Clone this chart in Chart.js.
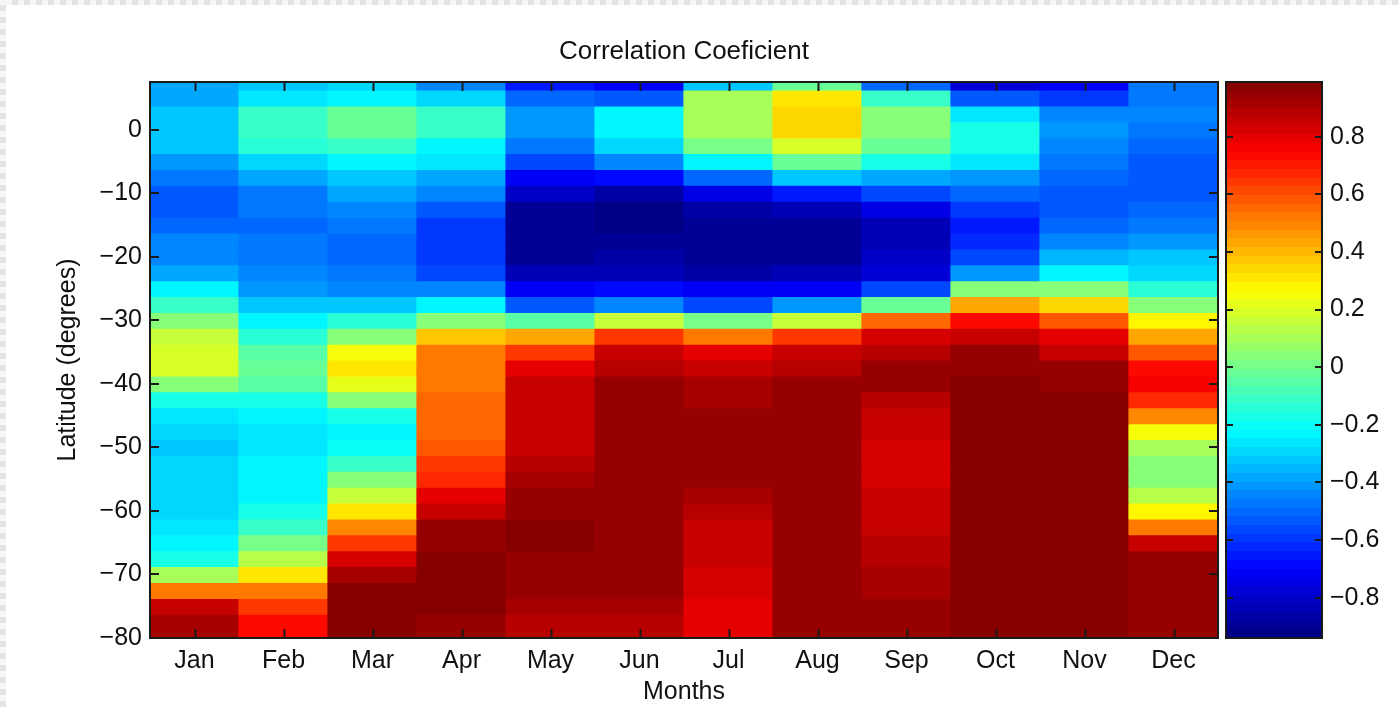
<!DOCTYPE html>
<html>
<head>
<meta charset="utf-8">
<title>Correlation Coeficient</title>
<script src="https://cdn.jsdelivr.net/npm/chart.js@4.4.1/dist/chart.umd.min.js"></script>
<style>
  html, body { margin: 0; padding: 0; background: #fff; }
  #wrap { position: relative; width: 1399px; height: 707px; overflow: hidden; }
  #wrap canvas { position: absolute; top: 0; }
  #heat { left: 0; }
  #bar { left: 1222px; }
  .edge-top { position: absolute; left: 0; top: 0; width: 1399px; height: 5px;
    background: repeating-linear-gradient(90deg, #e4e4e4 0 6px, #f6f6f6 6px 12px); }
  .edge-left { position: absolute; left: 0; top: 0; width: 6px; height: 707px;
    background: repeating-linear-gradient(0deg, #e4e4e4 0 6px, #f6f6f6 6px 12px); }
</style>
</head>
<body>
<div id="wrap">
  <canvas id="heat" width="1222" height="707"></canvas>
  <canvas id="bar" width="177" height="707"></canvas>
  <div class="edge-top"></div>
  <div class="edge-left"></div>
</div>
<script>
const months = ['Jan', 'Feb', 'Mar', 'Apr', 'May', 'Jun', 'Jul', 'Aug', 'Sep', 'Oct', 'Nov', 'Dec'];

// cell centres, north to south (degrees)
const latitudes = [7.5, 5, 2.5, 0, -2.5, -5, -7.5, -10, -12.5, -15, -17.5, -20,
  -22.5, -25, -27.5, -30, -32.5, -35, -37.5, -40, -42.5, -45, -47.5, -50,
  -52.5, -55, -57.5, -60, -62.5, -65, -67.5, -70, -72.5, -75, -77.5, -80];
const cellHalf = 1.25;

// correlation per latitude, one array per month (same order as latitudes)
const corrJan = [-0.38, -0.37, -0.32, -0.32, -0.33, -0.41, -0.46, -0.52, -0.52, -0.49, -0.43, -0.43,
  -0.37, -0.22, -0.10, 0.03, 0.15, 0.20, 0.20, 0.03, -0.16, -0.27, -0.30, -0.33,
  -0.29, -0.29, -0.29, -0.29, -0.26, -0.22, -0.16, 0.10, 0.53, 0.845, 0.91, 0.91];
const corrFeb = [-0.32, -0.27, -0.10, -0.10, -0.13, -0.29, -0.39, -0.46, -0.46, -0.49, -0.48, -0.46,
  -0.43, -0.40, -0.32, -0.24, -0.13, -0.06, -0.03, -0.06, -0.16, -0.22, -0.25, -0.27,
  -0.24, -0.22, -0.22, -0.16, -0.10, 0.00, 0.12, 0.30, 0.51, 0.65, 0.72, 0.72];
const corrMar = [-0.30, -0.22, -0.03, -0.03, -0.10, -0.22, -0.32, -0.39, -0.45, -0.48, -0.49, -0.49,
  -0.48, -0.43, -0.33, -0.13, 0.05, 0.25, 0.30, 0.22, 0.03, -0.16, -0.22, -0.19,
  -0.10, 0.03, 0.15, 0.30, 0.48, 0.65, 0.81, 0.91, 0.96, 0.96, 0.99, 0.99];
const corrApr = [-0.43, -0.30, -0.10, -0.10, -0.22, -0.27, -0.37, -0.43, -0.52, -0.58, -0.58, -0.58,
  -0.55, -0.43, -0.24, 0.05, 0.36, 0.51, 0.52, 0.53, 0.55, 0.55, 0.56, 0.59,
  0.63, 0.68, 0.78, 0.86, 0.93, 0.95, 0.98, 0.96, 0.96, 0.96, 0.945, 0.945];
const corrMay = [-0.64, -0.49, -0.40, -0.40, -0.46, -0.55, -0.70, -0.80, -0.88, -0.90, -0.90, -0.88,
  -0.83, -0.72, -0.52, -0.06, 0.43, 0.65, 0.78, 0.845, 0.845, 0.845, 0.845, 0.845,
  0.89, 0.91, 0.93, 0.94, 0.98, 0.98, 0.955, 0.955, 0.93, 0.91, 0.89, 0.89];
const corrJun = [-0.72, -0.52, -0.24, -0.23, -0.29, -0.43, -0.67, -0.87, -0.92, -0.92, -0.90, -0.87,
  -0.84, -0.67, -0.43, 0.15, 0.65, 0.845, 0.89, 0.93, 0.93, 0.93, 0.93, 0.93,
  0.93, 0.93, 0.94, 0.955, 0.955, 0.955, 0.955, 0.945, 0.93, 0.91, 0.89, 0.89];
const corrJul = [-0.33, 0.10, 0.10, 0.10, 0.00, -0.24, -0.49, -0.74, -0.86, -0.88, -0.88, -0.88,
  -0.86, -0.70, -0.55, 0.00, 0.52, 0.78, 0.86, 0.91, 0.91, 0.955, 0.955, 0.955,
  0.93, 0.93, 0.91, 0.89, 0.86, 0.845, 0.845, 0.81, 0.81, 0.80, 0.78, 0.78];
const corrAug = [-0.03, 0.30, 0.35, 0.33, 0.18, -0.03, -0.33, -0.64, -0.83, -0.88, -0.88, -0.88,
  -0.83, -0.72, -0.41, 0.15, 0.63, 0.845, 0.89, 0.955, 0.955, 0.955, 0.955, 0.93,
  0.93, 0.93, 0.93, 0.93, 0.955, 0.955, 0.955, 0.955, 0.955, 0.955, 0.955, 0.955];
const corrSep = [-0.49, -0.10, 0.05, 0.05, -0.03, -0.16, -0.37, -0.55, -0.74, -0.83, -0.83, -0.80,
  -0.78, -0.55, -0.03, 0.56, 0.81, 0.89, 0.93, 0.93, 0.89, 0.86, 0.84, 0.81,
  0.81, 0.81, 0.845, 0.845, 0.86, 0.875, 0.89, 0.91, 0.91, 0.93, 0.93, 0.93];
const corrOct = [-0.78, -0.52, -0.27, -0.16, -0.16, -0.27, -0.40, -0.49, -0.58, -0.64, -0.61, -0.55,
  -0.40, 0.05, 0.44, 0.72, 0.86, 0.93, 0.955, 0.98, 0.98, 0.98, 0.98, 0.98,
  0.98, 0.98, 0.98, 0.98, 0.98, 0.98, 0.98, 0.98, 0.98, 0.98, 0.98, 0.98];
const corrNov = [-0.70, -0.58, -0.43, -0.41, -0.45, -0.48, -0.49, -0.52, -0.53, -0.49, -0.45, -0.36,
  -0.22, 0.05, 0.35, 0.59, 0.78, 0.86, 0.93, 0.94, 0.98, 0.98, 0.98, 0.98,
  0.98, 0.98, 0.98, 0.98, 0.98, 0.98, 0.98, 0.98, 0.98, 0.98, 0.98, 0.98];
const corrDec = [-0.46, -0.46, -0.45, -0.46, -0.49, -0.52, -0.52, -0.52, -0.49, -0.46, -0.40, -0.32,
  -0.29, -0.13, 0.05, 0.27, 0.44, 0.59, 0.72, 0.75, 0.68, 0.49, 0.25, 0.10,
  0.03, 0.03, 0.12, 0.27, 0.53, 0.845, 0.955, 0.955, 0.955, 0.955, 0.955, 0.955];

const monthColumns = [corrJan, corrFeb, corrMar, corrApr, corrMay, corrJun,
  corrJul, corrAug, corrSep, corrOct, corrNov, corrDec];

// colour limits of the colorbar
const colorLimits = [-0.94, 0.99];

const FONT = "'Liberation Sans', Arial, Helvetica, sans-serif";
const INK = '#111';

// MATLAB-style jet, 64 levels
const JET_LEVELS = 64;
function jetAt(t) {
  const c = x => Math.round(255 * Math.max(0, Math.min(1, x)));
  return `rgb(${c(1.5 - Math.abs(4 * t - 3))},${c(1.5 - Math.abs(4 * t - 2))},${c(1.5 - Math.abs(4 * t - 1))})`;
}
function jet(v) {
  let t = (v - colorLimits[0]) / (colorLimits[1] - colorLimits[0]);
  let i = Math.floor(t * JET_LEVELS);
  i = Math.max(0, Math.min(JET_LEVELS - 1, i));
  return jetAt((i + 0.5) / JET_LEVELS);
}

const minus = s => String(s).replace('-', '\u2212');

// box around the plot area with inward ticks on every side
const framePlugin = {
  id: 'frame',
  afterDraw(chart, args, opts) {
    const {ctx, chartArea: a, scales} = chart;
    ctx.save();
    ctx.strokeStyle = '#1a1a1a';
    ctx.lineWidth = 2;
    ctx.beginPath();
    const len = opts.tickLength || 8;
    if (opts.xTicks && scales.x) {
      scales.x.ticks.forEach((t, i) => {
        const px = Math.round(scales.x.getPixelForTick(i)) + 0.5;
        ctx.moveTo(px, a.bottom); ctx.lineTo(px, a.bottom - len);
        ctx.moveTo(px, a.top); ctx.lineTo(px, a.top + len);
      });
    }
    scales.y.ticks.forEach(t => {
      const py = Math.round(scales.y.getPixelForValue(t.value));
      ctx.moveTo(a.left, py); ctx.lineTo(a.left + len, py);
      ctx.moveTo(a.right, py); ctx.lineTo(a.right - len, py);
    });
    ctx.stroke();
    ctx.strokeRect(a.left, a.top, a.right - a.left, a.bottom - a.top);
    ctx.restore();
  }
};

const heatDatasets = latitudes.map((lat, r) => ({
  label: String(lat),
  data: months.map(() => [lat - cellHalf, lat + cellHalf]),
  backgroundColor: monthColumns.map(col => jet(col[r])),
  borderWidth: 0,
  grouped: false,
  barPercentage: 1,
  categoryPercentage: 1,
  inflateAmount: 0.6,
  clip: 0
}));

new Chart(document.getElementById('heat'), {
  type: 'bar',
  data: { labels: months, datasets: heatDatasets },
  options: {
    responsive: false,
    animation: false,
    layout: { padding: { left: 0, top: 0, right: 4, bottom: 0 } },
    plugins: {
      legend: { display: false },
      tooltip: { enabled: false },
      title: {
        display: true,
        text: 'Correlation Coeficient',
        fullSize: false,
        color: INK,
        font: { family: FONT, size: 26, weight: 'normal' },
        padding: { top: 36.4, bottom: 14.4 }
      },
      frame: { xTicks: true, tickLength: 9 }
    },
    scales: {
      x: {
        type: 'category',
        grid: { display: false, drawTicks: false },
        border: { display: false },
        ticks: { color: INK, padding: 8, font: { family: FONT, size: 25 } },
        title: {
          display: true, text: 'Months', color: INK,
          font: { family: FONT, size: 25 },
          padding: { top: 0, bottom: 0 }
        },
        afterFit: s => { s.height = 69; }
      },
      y: {
        type: 'linear',
        min: -80,
        max: 7.5,
        grid: { display: false, drawTicks: false },
        border: { display: false },
        ticks: {
          stepSize: 10,
          includeBounds: false,
          color: INK,
          padding: 8,
          font: { family: FONT, size: 25 },
          callback: v => minus(v)
        },
        title: {
          display: true, text: 'Latitude (degrees)', color: INK,
          font: { family: FONT, size: 25 },
          padding: { top: 53, bottom: 0 }
        },
        afterFit: s => { s.width = 150; }
      }
    }
  },
  plugins: [framePlugin]
});

// jet ramp between two pixel rows, banded like a 64-entry colormap
function jetGradient(ctx, yLow, yHigh) {
  const g = ctx.createLinearGradient(0, yLow, 0, yHigh);
  for (let i = 0; i < JET_LEVELS; i++) {
    const col = jetAt((i + 0.5) / JET_LEVELS);
    g.addColorStop(i / JET_LEVELS, col);
    g.addColorStop((i + 1) / JET_LEVELS, col);
  }
  return g;
}

// colorbar: one floating bar across the colour limits, filled with the jet ramp
new Chart(document.getElementById('bar'), {
  type: 'bar',
  data: {
    labels: [''],
    datasets: [{
      data: [colorLimits],
      borderWidth: 0,
      barPercentage: 1,
      categoryPercentage: 1,
      backgroundColor: ctx => {
        const {chart} = ctx;
        const y = chart.scales.y;
        if (!chart.chartArea || !y) return 'rgba(0,0,0,0)';
        const y0 = y.getPixelForValue(colorLimits[0]);
        const y1 = y.getPixelForValue(colorLimits[1]);
        if (!isFinite(y0) || !isFinite(y1) || y0 === y1) return 'rgba(0,0,0,0)';
        return jetGradient(chart.ctx, y0, y1);
      }
    }]
  },
  options: {
    responsive: false,
    animation: false,
    layout: { padding: { left: 4, top: 82, right: 0, bottom: 69 } },
    plugins: {
      legend: { display: false },
      tooltip: { enabled: false },
      frame: { xTicks: false, tickLength: 7 }
    },
    scales: {
      x: { display: false },
      y: {
        type: 'linear',
        position: 'right',
        min: colorLimits[0],
        max: colorLimits[1],
        grid: { display: false, drawTicks: false },
        border: { display: false },
        ticks: {
          stepSize: 0.2,
          includeBounds: false,
          color: INK,
          padding: 8,
          font: { family: FONT, size: 25 },
          callback: v => minus(Math.abs(v) < 1e-9 ? 0 : Math.round(v * 10) / 10)
        },
        afterFit: s => { s.width = 77; }
      }
    }
  },
  plugins: [framePlugin]
});
</script>
</body>
</html>
